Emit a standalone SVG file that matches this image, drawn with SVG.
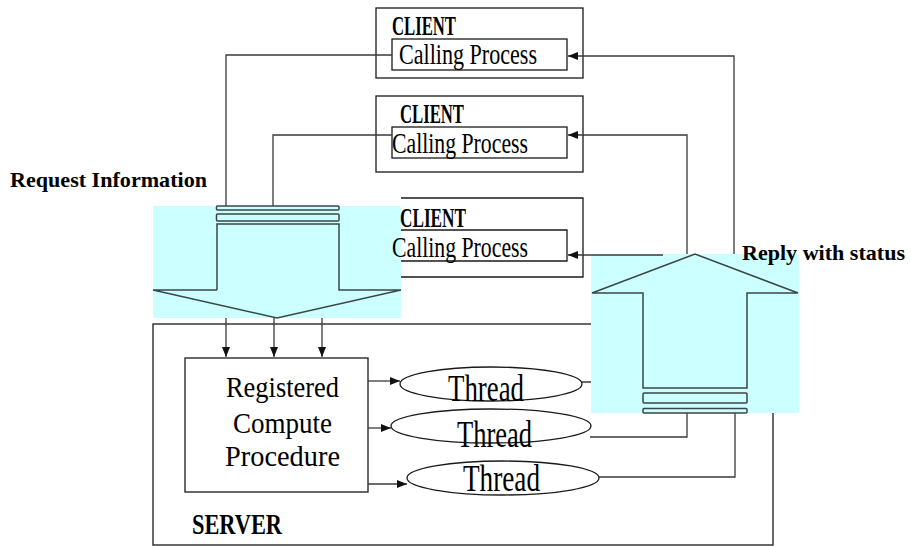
<svg xmlns="http://www.w3.org/2000/svg" width="911" height="546" viewBox="0 0 911 546">
  <style>
    .box { fill: #ffffff; stroke: #1a1a1a; stroke-width: 1.3; }
    .inner { fill: none; stroke: #1a1a1a; stroke-width: 1.3; }
    .wire { fill: none; stroke: #3a3a3a; stroke-width: 1.3; }
    .band { fill: #ccffff; stroke: none; }
    .shape { fill: none; stroke: #3c4646; stroke-width: 1.5; }
    .lbl { font-family: "Liberation Serif", serif; fill: #000; }
    .bold { font-weight: bold; }
  </style>
  <defs>
    <marker id="head" viewBox="0 0 10 8" refX="10" refY="4" markerWidth="10" markerHeight="8" markerUnits="userSpaceOnUse" orient="auto">
      <path d="M0,0 L10,4 L0,8 Z" fill="#111"/>
    </marker>
  </defs>
  <rect width="911" height="546" fill="#ffffff"/>

  <!-- client machines -->
  <g id="client1">
    <rect class="box" x="376" y="8" width="207" height="70"/>
    <rect class="inner" x="392" y="39" width="175" height="31"/>
    <text class="lbl bold" x="392" y="35" font-size="27" textLength="64" lengthAdjust="spacingAndGlyphs">CLIENT</text>
    <text class="lbl" x="399" y="64" font-size="29" textLength="138" lengthAdjust="spacingAndGlyphs">Calling Process</text>
  </g>
  <g id="client2">
    <rect class="box" x="376" y="96" width="207" height="76"/>
    <rect class="inner" x="392" y="127" width="175" height="31"/>
    <text class="lbl bold" x="400" y="123" font-size="27" textLength="64" lengthAdjust="spacingAndGlyphs">CLIENT</text>
    <text class="lbl" x="392" y="153" font-size="29" textLength="136" lengthAdjust="spacingAndGlyphs">Calling Process</text>
  </g>

  <!-- server -->
  <g id="server">
    <rect class="box" x="153" y="324" width="620" height="221"/>
    <text class="lbl bold" x="192" y="534" font-size="30" textLength="90" lengthAdjust="spacingAndGlyphs">SERVER</text>
  </g>
  <g id="procedure">
    <rect class="box" x="185" y="358" width="183" height="134"/>
    <text class="lbl" x="226" y="397" font-size="30" textLength="113" lengthAdjust="spacingAndGlyphs">Registered</text>
    <text class="lbl" x="233" y="433" font-size="30" textLength="99" lengthAdjust="spacingAndGlyphs">Compute</text>
    <text class="lbl" x="225" y="466" font-size="30" textLength="115" lengthAdjust="spacingAndGlyphs">Procedure</text>
  </g>
  <g id="thread1">
    <ellipse class="box" cx="491" cy="384" rx="91" ry="17"/>
    <text class="lbl" x="448" y="401" font-size="38" textLength="76" lengthAdjust="spacingAndGlyphs">Thread</text>
  </g>
  <g id="thread2">
    <ellipse class="box" cx="491" cy="426" rx="100" ry="17"/>
    <text class="lbl" x="457" y="447" font-size="38" textLength="75" lengthAdjust="spacingAndGlyphs">Thread</text>
  </g>
  <g id="thread3">
    <ellipse class="box" cx="503" cy="478" rx="96" ry="17"/>
    <text class="lbl" x="463" y="491" font-size="38" textLength="77" lengthAdjust="spacingAndGlyphs">Thread</text>
  </g>

  <!-- connectors -->
  <g id="connectors">
    <!-- requests leaving the callers -->
    <path class="wire" d="M392,55 H226 V206"/>
    <path class="wire" d="M392,135 H273 V206"/>
    <!-- request fan-in to the procedure -->
    <path class="wire" d="M226,318 V357" marker-end="url(#head)"/>
    <path class="wire" d="M274,318 V357" marker-end="url(#head)"/>
    <path class="wire" d="M322,318 V357" marker-end="url(#head)"/>
    <!-- procedure spawns threads -->
    <path class="wire" d="M368,381 H400" marker-end="url(#head)"/>
    <path class="wire" d="M368,428 H391" marker-end="url(#head)"/>
    <path class="wire" d="M368,484 H407" marker-end="url(#head)"/>
    <!-- thread replies -->
    <path class="wire" d="M582,382 H663 V254"/>
    <path class="wire" d="M590,437 H687 V413"/>
    <path class="wire" d="M598,477 H735 V413"/>
    <!-- replies back to callers -->
    <path class="wire" d="M734,254 V56 H568" marker-end="url(#head)"/>
    <path class="wire" d="M687,254 V135 H568" marker-end="url(#head)"/>
  </g>

  <!-- request arrow -->
  <g id="request-arrow">
    <rect class="band" x="153" y="206" width="248" height="112"/>
    <rect class="shape" x="216.5" y="206" width="122.5" height="4" rx="1"/>
    <rect class="shape" x="216.5" y="214" width="122.5" height="7" rx="1"/>
    <path class="shape" d="M217,290 V224 H339 V290 H401 L277,318 L153,290 H217"/>
  </g>

  <!-- third client: its left edge sits behind the request arrow -->
  <g id="client3">
    <path class="inner" d="M401,198 H583 V277 H401"/>
    <path class="inner" d="M401,230 H567 V261 H401"/>
    <text class="lbl bold" x="400" y="227" font-size="27" textLength="66" lengthAdjust="spacingAndGlyphs">CLIENT</text>
    <text class="lbl" x="392" y="257" font-size="29" textLength="136" lengthAdjust="spacingAndGlyphs">Calling Process</text>
  </g>

  <!-- reply arrow -->
  <g id="reply-arrow">
    <rect class="band" x="591" y="254" width="208" height="159"/>
    <path class="shape" d="M643,293 V388 H747 V293 H798 L695,254 L592,293 Z"/>
    <rect class="shape" x="643" y="393" width="104" height="10" rx="1"/>
    <rect class="shape" x="643" y="408.5" width="104" height="4.5" rx="1"/>
  </g>

  <path class="wire" d="M663,255 H568" marker-end="url(#head)"/>

  <text class="lbl bold" x="10" y="187" font-size="22" textLength="197" lengthAdjust="spacingAndGlyphs">Request Information</text>
  <text class="lbl bold" x="742" y="260" font-size="22" textLength="163" lengthAdjust="spacingAndGlyphs">Reply with status</text>
</svg>
